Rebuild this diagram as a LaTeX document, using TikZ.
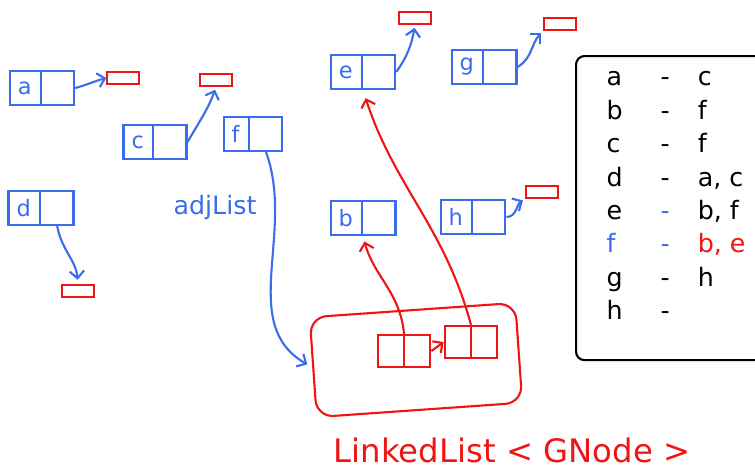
\documentclass[tikz,border=0pt]{standalone}
\usepackage{fontspec}
\setmainfont{DejaVu Sans}
\usetikzlibrary{arrows.meta, shapes.multipart, positioning}
\definecolor{penblue}{HTML}{3A6CEB}
\definecolor{penred}{HTML}{F01414}

\begin{document}
\begin{tikzpicture}[
    x=0.025cm, y=-0.025cm,
    every node/.style={font=\fontsize{16}{18}\selectfont},
    gnode/.style={rectangle split, rectangle split horizontal, rectangle split parts=2,
                  draw=penblue, line width=1.5pt, text=penblue, minimum height=0.85cm,
                  inner xsep=0.2cm, rectangle split empty part width=0.22cm},
    lnode/.style={rectangle split, rectangle split horizontal, rectangle split parts=2,
                  draw=penred, line width=1.5pt, minimum height=0.8cm,
                  inner xsep=0.12cm, rectangle split empty part width=0.2cm},
    nil/.style={rectangle, draw=penred, line width=1.5pt, minimum width=0.78cm,
                minimum height=0.3cm},
    ptr/.style={-{Straight Barb[length=1.8mm]}, line width=1.5pt, penblue},
    rptr/.style={ptr, penred}
]
    \useasboundingbox (0,0) rectangle (755,475);

    \node[gnode] (a) at (42,88)  {a \nodepart{two}};
    \node[gnode] (c) at (155,142) {c \nodepart{two}};
    \node[gnode] (f) at (253,134) {f \nodepart{two}};
    \node[gnode] (d) at (41,208) {d \nodepart{two}};
    \node[gnode] (e) at (363,72) {e \nodepart{two}};
    \node[gnode] (g) at (484,67) {g \nodepart{two}};
    \node[gnode] (b) at (363,218) {b \nodepart{two}};
    \node[gnode] (h) at (473,217) {h \nodepart{two}};

    \node[nil] (nila) at (123,78) {};
    \node[nil] (nilc) at (216,80) {};
    \node[nil] (nild) at (78,291) {};
    \node[nil] (nile) at (415,18) {};
    \node[nil] (nilg) at (560,24) {};
    \node[nil] (nilh) at (542,192) {};

    \node[text=penblue, font=\fontsize{18}{20}\selectfont] (adj) at (215,208) {adjList};

    \node[draw=penred, line width=1.5pt, rounded corners=12pt, rotate=4,
          minimum width=5.15cm, minimum height=2.5cm] (list) at (416,360) {};
    \node[lnode] (l1) at (404,351) {\nodepart{two}};
    \node[lnode] (l2) at (471,342) {\nodepart{two}};
    \node[text=penred, font=\fontsize{23}{26}\selectfont] (llname) at (512,450)
        {LinkedList < GNode >};

    \draw[ptr] (a.east) to[out=15, in=195] (nila.west);
    \draw[ptr, shorten >=2pt] (c.east) to[out=60, in=-110] (nilc.south);
    \draw[ptr, shorten >=3pt] (d.two south) to[out=-80, in=95] (nild.north);
    \draw[ptr, shorten >=2pt] (e.east) to[out=55, in=-100] (nile.south);
    \draw[ptr, shorten >=2pt] (g.east) to[out=30, in=-135] (nilg.south west);
    \draw[ptr, shorten >=2pt] (h.east) to[out=0, in=-150] (nilh.south west);
    \draw[ptr, shorten >=4pt] (f.two south) to[out=-70, in=150] (list.west);

    \draw[rptr] (l1.east) -- (l2.west);
    \draw[rptr, shorten >=4pt] (l1.north) to[out=95, in=-75] (b.south);
    \draw[rptr, shorten >=6pt] (l2.north) to[out=105, in=-72] (e.south);

    \node[draw, line width=1.5pt, rounded corners=6pt, anchor=north west,
          minimum width=5cm, minimum height=7.6cm,
          font=\fontsize{18}{22}\selectfont] (tbl) at (575,55) {%
        \renewcommand{\arraystretch}{1.08}%
        \begin{tabular}{@{}l@{\hspace{0.95cm}}c@{\hspace{0.7cm}}l@{}}
            a & - & c \\
            b & - & f \\
            c & - & f \\
            d & - & a, c \\
            e & \textcolor{penblue}{-} & b, f \\
            \textcolor{penblue}{f} & \textcolor{penblue}{-} & \textcolor{penred}{b, e} \\
            g & - & h \\
            h & - & \\[0.6cm]
        \end{tabular}};
\end{tikzpicture}
\end{document}
